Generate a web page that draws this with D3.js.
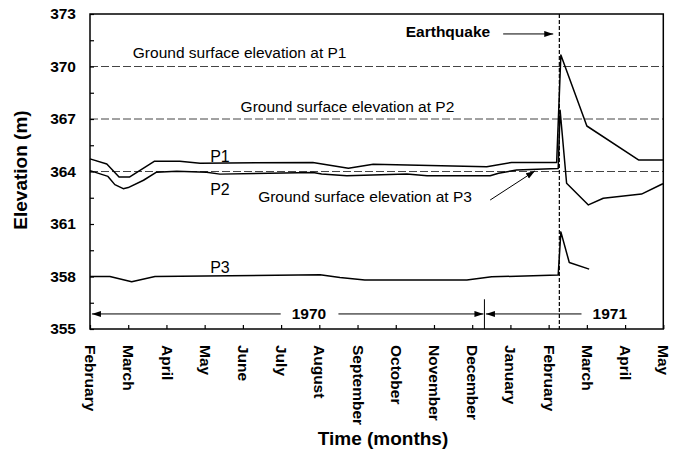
<!DOCTYPE html>
<html>
<head>
<meta charset="utf-8">
<script src="https://cdn.jsdelivr.net/npm/d3@7"></script>
<style>
  html, body { margin: 0; padding: 0; background: #fff; }
  svg { display: block; font-family: Arial, "Liberation Sans", sans-serif; }
</style>
</head>
<body>
<svg id="chart" width="680" height="451"></svg>
<script>
// ---------------- data ----------------
const months = ["February","March","April","May","June","July","August","September",
                "October","November","December","January","February","March","April","May"];
const yTickLabels = [355, 358, 361, 364, 367, 370, 373];
const groundLevels = [370, 367, 364];
const groundNames = ["P1", "P2", "P3"];

// [month index from Feb 1970, elevation m]
const p1 = [[0,364.72],[0.44,364.43],[0.76,363.68],[1.03,363.68],[1.68,364.58],[2.35,364.58],
            [2.88,364.47],[5.83,364.52],[6.76,364.18],[7.41,364.41],[10.38,364.27],[11.03,364.52],
            [12.21,364.52],[12.32,370.66],[13.0,366.6],[14.35,364.66],[15,364.66]];
const p2 = [[0,364.05],[0.47,363.72],[0.65,363.25],[0.87,363.02],[1.0,363.08],[1.4,363.5],
            [1.74,363.96],[2.27,364.02],[3.05,363.96],[3.4,363.85],[5.84,363.94],[6.06,363.86],
            [6.72,363.76],[8.29,363.86],[8.82,363.76],[10.47,363.76],[10.69,363.9],[11.16,364.08],
            [12.25,364.17],[12.30,367.5],[12.47,363.33],[13.04,362.09],[13.43,362.47],
            [14.43,362.71],[14.96,363.27],[15,363.3]];
const p3 = [[0,358.0],[0.52,358.0],[1.09,357.7],[1.70,358.0],[6.02,358.1],[6.54,357.94],
            [7.19,357.8],[9.86,357.8],[10.51,357.98],[12.25,358.08],[12.32,360.55],
            [12.54,358.8],[13.06,358.42]];

const quakeMonth = 12.28;
const yearDivider = 10.32;
const yearBarLevel = 355.86;

// ---------------- scales ----------------
const svg = d3.select("#chart");
const x = d3.scaleLinear().domain([0, 15]).range([90, 663.3]);
const y = d3.scaleLinear().domain([355, 373]).range([329, 14]);

svg.append("rect").attr("width", 680).attr("height", 451).attr("fill", "#fff");

// markers
const defs = svg.append("defs");
defs.append("marker").attr("id", "arr").attr("markerUnits", "userSpaceOnUse")
  .attr("markerWidth", 10).attr("markerHeight", 8).attr("refX", 9).attr("refY", 3)
  .attr("orient", "auto")
  .append("path").attr("d", "M0,0 L9,3 L0,6 Z").attr("fill", "#000");
defs.append("marker").attr("id", "arrStart").attr("markerUnits", "userSpaceOnUse")
  .attr("markerWidth", 10).attr("markerHeight", 8).attr("refX", 9).attr("refY", 3)
  .attr("orient", "auto-start-reverse")
  .append("path").attr("d", "M0,0 L9,3 L0,6 Z").attr("fill", "#000");

// ground surface dashed lines
svg.selectAll("line.ground").data(groundLevels).enter().append("line")
  .attr("x1", x(0)).attr("x2", x(15))
  .attr("y1", d => y(d)).attr("y2", d => y(d))
  .attr("stroke", "#444").attr("stroke-width", 1).attr("stroke-dasharray", "8,3");

// earthquake line
svg.append("line").attr("x1", x(quakeMonth)).attr("x2", x(quakeMonth))
  .attr("y1", y(373)).attr("y2", y(355))
  .attr("stroke", "#000").attr("stroke-width", 1.2).attr("stroke-dasharray", "4,2");

// axes
const xAxis = d3.axisBottom(x).tickValues(d3.range(0, 16)).tickSizeInner(-4).tickSizeOuter(0)
  .tickFormat(i => months[i]);
const gx = svg.append("g").attr("transform", `translate(0,${y(355)})`).call(xAxis);
gx.select(".domain").remove();
gx.selectAll(".tick line").attr("stroke", "#000").attr("stroke-width", 1.2);
gx.selectAll(".tick text")
  .attr("font-size", 15.5).attr("font-weight", "bold").attr("fill", "#000")
  .attr("text-anchor", "start")
  .attr("transform", "rotate(90)")
  .attr("x", 16).attr("y", 0).attr("dy", "0.35em");

const yAxis = d3.axisLeft(y).tickValues(d3.range(355, 373.01, 1.5)).tickSizeInner(-4).tickSizeOuter(0)
  .tickFormat(d => yTickLabels.includes(d) ? d : "");
const gy = svg.append("g").attr("transform", `translate(${x(0)},0)`).call(yAxis);
gy.select(".domain").remove();
gy.selectAll(".tick line").attr("stroke", "#000").attr("stroke-width", 1.2);
gy.selectAll(".tick text").attr("font-size", 15.5).attr("font-weight", "bold").attr("fill", "#000")
  .attr("x", -14);

// frame
svg.append("rect").attr("x", x(0)).attr("y", y(373))
  .attr("width", x(15) - x(0)).attr("height", y(355) - y(373))
  .attr("fill", "none").attr("stroke", "#000").attr("stroke-width", 1.5);

// series
const line = d3.line().x(d => x(d[0])).y(d => y(d[1]));
[p1, p2, p3].forEach(s => {
  svg.append("path").datum(s).attr("d", line)
    .attr("fill", "none").attr("stroke", "#000").attr("stroke-width", 1.5)
    .attr("stroke-linejoin", "round");
});

// ground labels
const gLabelPos = [[1.12, 370, -9], [3.94, 367, -7], [4.40, 362.26, 0]];
svg.selectAll("text.glabel").data(groundNames).enter().append("text")
  .attr("x", (d, i) => x(gLabelPos[i][0]))
  .attr("y", (d, i) => y(gLabelPos[i][1]) + gLabelPos[i][2])
  .attr("font-size", 15.5).attr("fill", "#000")
  .text(d => `Ground surface elevation at ${d}`);

// P3 annotation arrow
svg.append("line").attr("x1", x(10.47)).attr("y1", y(362.37))
  .attr("x2", x(11.64)).attr("y2", y(364.03))
  .attr("stroke", "#000").attr("stroke-width", 1).attr("marker-end", "url(#arr)");

// series labels
const seriesLabels = [["P1", 364.54], ["P2", 362.66], ["P3", 358.22]];
svg.selectAll("text.slabel").data(seriesLabels).enter().append("text")
  .attr("x", x(3.40)).attr("y", d => y(d[1]))
  .attr("text-anchor", "middle").attr("font-size", 16).attr("fill", "#000")
  .text(d => d[0]);

// earthquake label
svg.append("text").attr("x", x(10.47)).attr("y", y(371.66))
  .attr("text-anchor", "end").attr("font-size", 15.5).attr("font-weight", "bold")
  .text("Earthquake");
svg.append("line").attr("x1", x(10.81)).attr("x2", x(12.12))
  .attr("y1", y(371.86)).attr("y2", y(371.86))
  .attr("stroke", "#000").attr("stroke-width", 1).attr("marker-end", "url(#arr)");

// year bars
const yb = y(yearBarLevel);
svg.append("line").attr("x1", x(0.05)).attr("x2", x(4.99)).attr("y1", yb).attr("y2", yb)
  .attr("stroke", "#000").attr("stroke-width", 1).attr("marker-start", "url(#arrStart)");
svg.append("line").attr("x1", x(6.5)).attr("x2", x(yearDivider) - 1).attr("y1", yb).attr("y2", yb)
  .attr("stroke", "#000").attr("stroke-width", 1).attr("marker-end", "url(#arr)");
svg.append("line").attr("x1", x(yearDivider) + 1.5).attr("x2", x(12.86)).attr("y1", yb).attr("y2", yb)
  .attr("stroke", "#000").attr("stroke-width", 1).attr("marker-start", "url(#arrStart)");
svg.append("line").attr("x1", x(yearDivider)).attr("x2", x(yearDivider))
  .attr("y1", y(356.7)).attr("y2", y(355))
  .attr("stroke", "#000").attr("stroke-width", 1);
const years = [["1970", 5.73], ["1971", 13.6]];
svg.selectAll("text.year").data(years).enter().append("text")
  .attr("x", d => x(d[1])).attr("y", yb).attr("dy", "0.35em")
  .attr("text-anchor", "middle").attr("font-size", 15.5).attr("font-weight", "bold")
  .text(d => d[0]);

// axis titles
svg.append("text").attr("transform", "translate(27,170) rotate(-90)")
  .attr("text-anchor", "middle").attr("font-size", 19).attr("font-weight", "bold")
  .text("Elevation (m)");
svg.append("text").attr("x", 383).attr("y", 445)
  .attr("text-anchor", "middle").attr("font-size", 19).attr("font-weight", "bold")
  .text("Time (months)");
</script>
</body>
</html>
